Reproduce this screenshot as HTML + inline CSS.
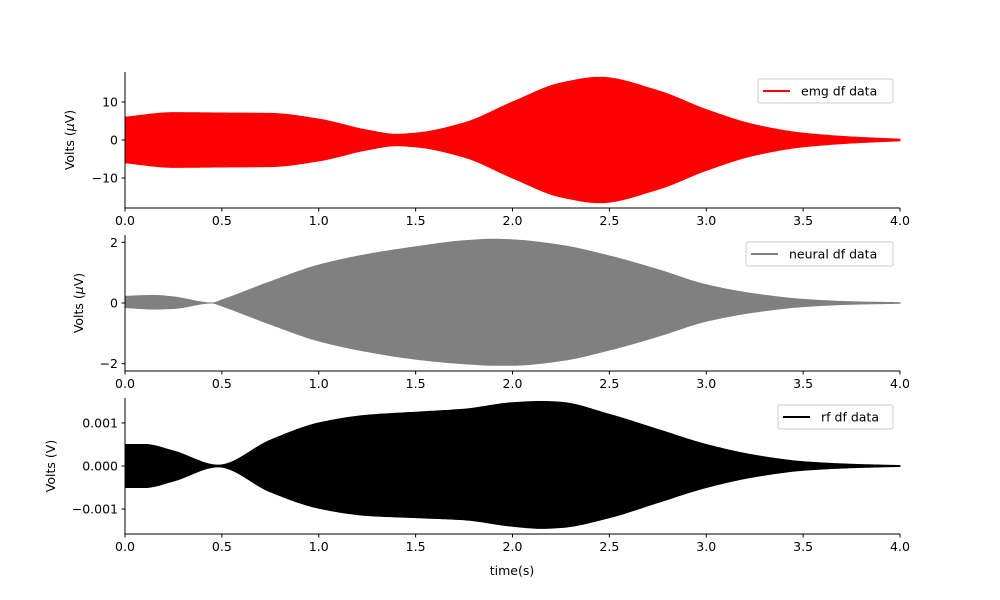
<!DOCTYPE html>
<html><head><meta charset="utf-8"><style>
body{margin:0;background:#fff;}
svg{display:block;font-family:"DejaVu Sans","Liberation Sans",sans-serif;}
</style></head><body>
<svg id="chart" width="1000" height="600" xmlns="http://www.w3.org/2000/svg"></svg>
<script>
const times = [0,0.25,0.5,0.75,1.0,1.25,1.4,1.5,1.75,2.0,2.25,2.45,2.75,3.0,3.25,3.5,3.75,4.0];
const emgUpper = [6,7.2,7.1,7.0,5.5,2.6,1.5,1.8,4.5,10,15,16.5,13,8,4,1.8,0.8,0.2];
const emgLower = [-6,-7.2,-7.1,-7.0,-5.5,-2.6,-1.5,-1.8,-4.5,-10,-15,-16.5,-13,-8,-4,-1.8,-0.8,-0.2];
const neuralTimes = [0,0.15,0.25,0.45,0.5,0.75,1.0,1.25,1.5,1.75,1.9,2.0,2.25,2.5,2.75,3.0,3.25,3.5,3.75,4.0];
const neuralUpper = [0.22,0.25,0.2,0.0,0.1,0.7,1.25,1.6,1.85,2.05,2.1,2.08,1.9,1.55,1.1,0.6,0.3,0.12,0.04,0.01];
const neuralLower = [-0.15,-0.2,-0.18,0.0,-0.1,-0.7,-1.25,-1.6,-1.85,-2.0,-2.05,-2.05,-1.9,-1.55,-1.1,-0.6,-0.3,-0.12,-0.04,-0.01];
const rfTimes = [0,0.1,0.25,0.48,0.75,1.0,1.25,1.5,1.75,2.0,2.15,2.25,2.5,2.75,3.0,3.25,3.5,3.75,4.0];
const rfUpper = [0.0005,0.0005,0.00035,0.00002,0.0006,0.001,0.00118,0.00125,0.00132,0.00147,0.0015,0.00148,0.0012,0.00085,0.0005,0.00025,0.0001,0.00004,0.00001];
const rfLower = [-0.0005,-0.0005,-0.00035,-0.00002,-0.0006,-0.00098,-0.00115,-0.0012,-0.00125,-0.0014,-0.00145,-0.00143,-0.0012,-0.00085,-0.0005,-0.00025,-0.0001,-0.00004,-0.00001];
const xTicks = [0,0.5,1,1.5,2,2.5,3,3.5,4];
const xTickLabels = ["0.0","0.5","1.0","1.5","2.0","2.5","3.0","3.5","4.0"];
const emgTicks = [10,0,-10], emgTickLabels = ["10","0","\u221210"];
const neuralTicks = [2,0,-2], neuralTickLabels = ["2","0","\u22122"];
const rfTicks = [0.001,0,-0.001], rfTickLabels = ["0.001","0.000","\u22120.001"];

const svg = document.getElementById('chart');
const NS = "http://www.w3.org/2000/svg";
function mk(tag, attrs, parent){const e=document.createElementNS(NS,tag);for(const k in attrs)e.setAttribute(k,attrs[k]);(parent||svg).appendChild(e);return e;}
const X0=125,X1=900;
const xs = t => X0 + (t-0)/(4-0)*(X1-X0);

// monotone cubic (Fritsch-Carlson) interpolation, returns function
function monotone(x,y){
  const n=x.length, d=[], m=new Array(n);
  for(let i=0;i<n-1;i++) d.push((y[i+1]-y[i])/(x[i+1]-x[i]));
  m[0]=d[0]; m[n-1]=d[n-2];
  for(let i=1;i<n-1;i++){
    if(d[i-1]*d[i]<=0) m[i]=0;
    else { const w1=2*(x[i+1]-x[i])+(x[i]-x[i-1]), w2=(x[i+1]-x[i])+2*(x[i]-x[i-1]);
      m[i]=(w1+w2)/(w1/d[i-1]+w2/d[i]); }
  }
  return t=>{
    let i=0; while(i<n-2 && t>x[i+1]) i++;
    const h=x[i+1]-x[i], s=(t-x[i])/h, s2=s*s, s3=s2*s;
    return (2*s3-3*s2+1)*y[i]+(s3-2*s2+s)*h*m[i]+(-2*s3+3*s2)*y[i+1]+(s3-s2)*h*m[i+1];
  };
}

function panel(name, top, bottom, ymin, ymax, t, up, lo, color, ticks, tickLabels, ylabel, legendText, legX, legW){
  const g = mk('g',{});
  
  
  const ys = v => bottom - (v-ymin)/(ymax-ymin)*(bottom-top);
  const fu = monotone(t,up), fl = monotone(t,lo);
  const N=400, t0=t[0], t1=t[t.length-1];
  let d='';
  for(let k=0;k<=N;k++){const tt=t0+(t1-t0)*k/N; d+=(k?'L':'M')+xs(tt).toFixed(2)+','+ys(fu(tt)).toFixed(2);}
  for(let k=N;k>=0;k--){const tt=t0+(t1-t0)*k/N; d+='L'+xs(tt).toFixed(2)+','+ys(fl(tt)).toFixed(2);}
  d+='Z';
  const p = mk('path',{d:d,fill:color,stroke:color,'stroke-width':1},g);
  
  
  const ax = mk('path',{d:`M${X0},${top}V${bottom}H${X1}`,stroke:'#000',fill:'none','stroke-width':1},g);
  
  
  xTicks.forEach((v,i)=>{
    mk('line',{x1:xs(v),x2:xs(v),y1:bottom,y2:bottom+3.5,stroke:'#000'},g);
    const tx = mk('text',{x:xs(v),y:bottom+17,'font-size':12.5,'text-anchor':'middle'},g);
    tx.textContent = xTickLabels[i];
    
    
  });
  ticks.forEach((v,i)=>{
    mk('line',{x1:X0-3.5,x2:X0,y1:ys(v),y2:ys(v),stroke:'#000'},g);
    const tx = mk('text',{x:X0-7,y:ys(v)+4.5,'font-size':12.5,'text-anchor':'end'},g);
    tx.textContent = tickLabels[i];
    
    
  });
  const yl = mk('text',{x:0,y:0,'font-size':12.5,'text-anchor':'middle',transform:`translate(${ylabel[1]},${(top+bottom)/2}) rotate(-90)`},g);
  yl.innerHTML = ylabel[0];
  
  
  const lg = mk('g',{},g);
  
  
  mk('rect',{x:legX,y:top+7,width:legW,height:24,rx:2,fill:'#fff',stroke:'#ccc'},lg);
  mk('line',{x1:legX+5,x2:legX+32,y1:top+19,y2:top+19,stroke:color,'stroke-width':2},lg);
  const lt = mk('text',{x:legX+43,y:top+23.5,'font-size':12.5},lg);
  lt.textContent = legendText;
  
  
}
panel('emg',72,208,-17.9,17.9,times,emgUpper,emgLower,'#ff0000',emgTicks,emgTickLabels,['Volts (<tspan font-style="italic">μ</tspan>V)',74],'emg df data',758,135);
panel('neural',235,371,-2.24,2.24,neuralTimes,neuralUpper,neuralLower,'#808080',neuralTicks,neuralTickLabels,['Volts (<tspan font-style="italic">μ</tspan>V)',83],'neural df data',746,147);
panel('rf',398,534,-0.00158,0.00158,rfTimes,rfUpper,rfLower,'#000000',rfTicks,rfTickLabels,['Volts (V)',55],'rf df data',778,115);
const xl = mk('text',{x:512,y:575,'font-size':12.5,'text-anchor':'middle'});
xl.textContent='time(s)';


</script>
</body></html>
